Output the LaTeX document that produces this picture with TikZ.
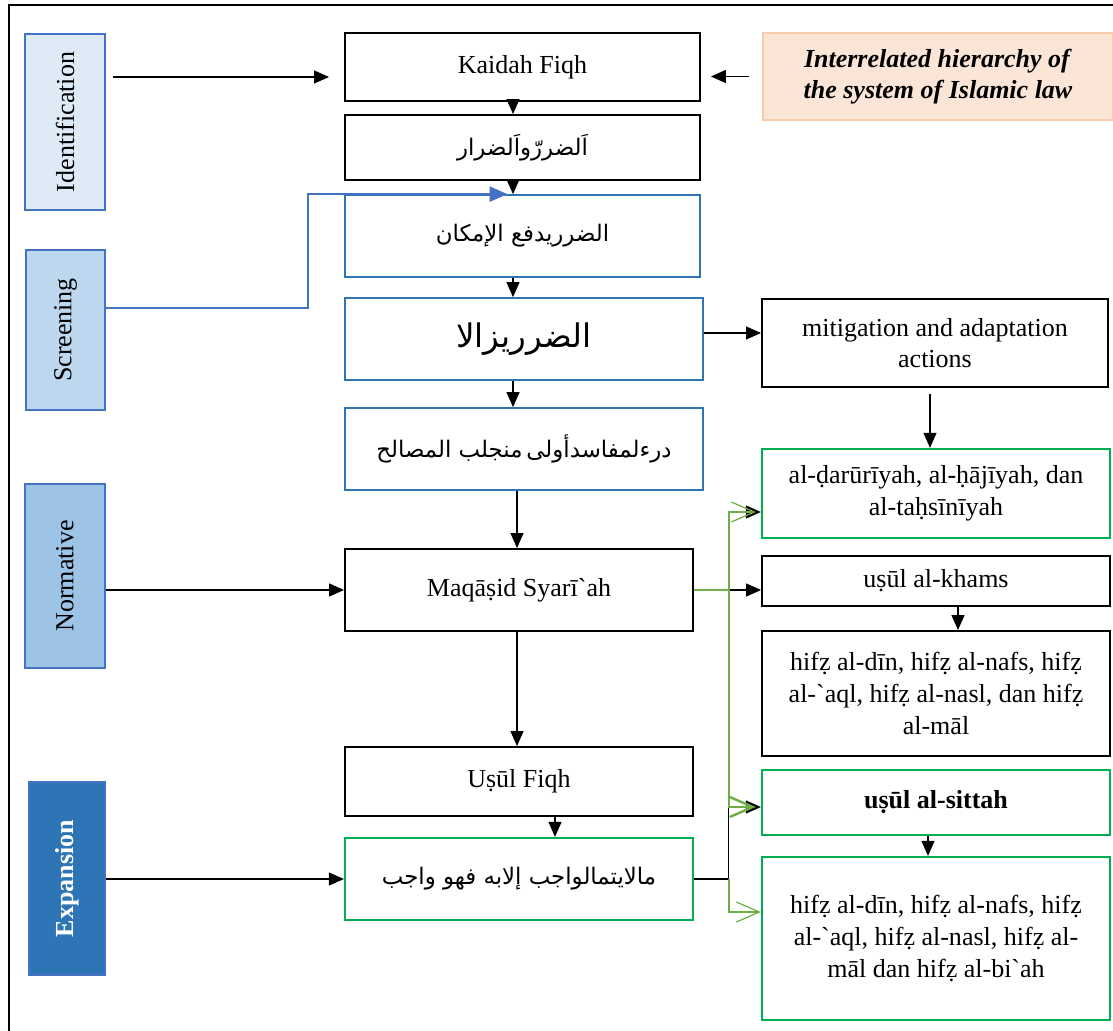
\documentclass[tikz,border=0pt]{standalone}
\usepackage{fontspec}
\usepackage{graphicx}
\setmainfont{Liberation Serif}
\newfontfamily\arabicfont[Script=Arabic]{DejaVu Sans}
\TeXXeTstate=1
\usetikzlibrary{arrows.meta}
\definecolor{stageline}{RGB}{68, 114, 196}
\definecolor{boxblue}{RGB}{46, 117, 182}
\definecolor{boxgreen}{RGB}{0, 176, 80}
\definecolor{linkgreen}{RGB}{112, 173, 71}
\definecolor{identfill}{RGB}{222, 235, 247}
\definecolor{screenfill}{RGB}{189, 215, 238}
\definecolor{normfill}{RGB}{157, 195, 230}
\definecolor{expfill}{RGB}{46, 117, 182}
\definecolor{peachfill}{RGB}{251, 229, 214}
\definecolor{peachline}{RGB}{248, 203, 173}

\begin{document}
\begin{tikzpicture}[x=0.02cm, y=-0.02cm,
  every node/.style={font=\fontsize{14.8}{18}\selectfont, inner sep=0pt},
  box/.style={draw=black, line width=1.1pt, rectangle},
  bluebox/.style={draw=boxblue, line width=1pt, rectangle, font=\arabicfont\fontsize{13}{16}\selectfont},
  greenbox/.style={draw=boxgreen, line width=1.3pt, rectangle},
  stage/.style={draw=stageline, line width=0.6pt, rectangle},
  arr/.style={-{Triangle[length=0.3cm, width=0.26cm]}, line width=0.6pt},
  garr/.style={-{Straight Barb[length=0.46cm, width=0.4cm]}, draw=linkgreen, line width=0.7pt}]
  \useasboundingbox (0, 0) rectangle (1113, 1031);
  \draw[line width=1.1pt] (9, 1060) |- (1140, 5);

  \node[stage, fill=identfill, minimum width=1.6cm, minimum height=3.52cm] (ident) at (65, 122) {\rotatebox{90}{Identification}};
  \node[stage, fill=screenfill, minimum width=1.58cm, minimum height=3.2cm] (screen) at (65.5, 330) {\rotatebox{90}{Screening}};
  \node[stage, fill=normfill, minimum width=1.6cm, minimum height=3.68cm] (norm) at (65, 576) {\rotatebox{90}{Normative}};
  \node[stage, fill=expfill, text=white, minimum width=1.52cm, minimum height=3.86cm] (expan) at (67, 878.5) {\rotatebox{90}{\textbf{Expansion}}};

  \node[box, minimum width=7.1cm, minimum height=1.36cm] (kaidah) at (522.5, 67) {Kaidah Fiqh};
  \node[box, minimum width=7.1cm, minimum height=1.3cm, font=\arabicfont\fontsize{13}{16}\selectfont] (darar) at (522.5, 147.5) {\beginR اَلضررّواَلضرار\endR};
  \node[bluebox, minimum width=7.1cm, minimum height=1.64cm] (yudfa) at (522.5, 236) {\beginR الضرريدفع الإمكان\endR};
  \node[bluebox, minimum width=7.16cm, minimum height=1.64cm, font=\arabicfont\fontsize{18.5}{22}\selectfont] (yuzal) at (524, 339) {\beginR الضرريزالا\endR};
  \node[bluebox, minimum width=7.16cm, minimum height=1.64cm] (dar) at (524, 449) {\beginR درءلمفاسدأولى\,منجلب المصالح\endR};
  \node[box, minimum width=6.96cm, minimum height=1.64cm] (maqasid) at (519, 590) {Maqāṣid Syarī\textasciigrave ah};
  \node[box, minimum width=6.96cm, minimum height=1.38cm] (usul) at (519, 781.5) {Uṣūl Fiqh};
  \node[greenbox, minimum width=6.96cm, minimum height=1.64cm, font=\arabicfont\fontsize{13}{16}\selectfont] (mala) at (519, 879) {\beginR مالايتمالواجب إلابه فهو واجب\endR};

  \node[draw=peachline, fill=peachfill, line width=1.3pt, minimum width=7cm, minimum height=1.74cm, align=center] (hier) at (938, 76.5) {\textbf{\textit{Interrelated hierarchy of}}\\\textbf{\textit{the system of Islamic law}}};
  \node[box, minimum width=6.92cm, minimum height=1.76cm, align=center] (mitig) at (935, 343) {mitigation and adaptation\\actions};
  \node[greenbox, minimum width=6.96cm, minimum height=1.78cm, align=center] (darur) at (936, 493.5) {al-ḍarūrīyah, al-ḥājīyah, dan\\al-taḥsīnīyah};
  \node[box, minimum width=6.96cm, minimum height=1cm] (khams) at (936, 581) {uṣūl al-khams};
  \node[box, minimum width=6.96cm, minimum height=2.5cm, align=center] (hifza) at (936, 693.5) {hifẓ al-dīn, hifẓ al-nafs, hifẓ\\al-\textasciigrave aql, hifẓ al-nasl, dan hifẓ\\al-māl};
  \node[greenbox, minimum width=6.96cm, minimum height=1.3cm] (sittah) at (936, 802.5) {\textbf{uṣūl al-sittah}};
  \node[greenbox, minimum width=6.96cm, minimum height=3.26cm, align=center] (hifzb) at (936, 938.5) {hifẓ al-dīn, hifẓ al-nafs, hifẓ\\al-\textasciigrave aql, hifẓ al-nasl, hifẓ al-\\māl dan hifẓ al-bi\textasciigrave ah};

  \draw[arr] ([xshift=0.14cm, yshift=-0.2cm]ident.east |- kaidah.west) -- ([xshift=-0.3cm, yshift=-0.2cm]kaidah.west);
  \draw[arr, shorten >=0.2cm] ([xshift=-0.26cm]hier.west) -- (hier.west -| kaidah.east);
  \draw[-{Triangle[length=0.36cm, width=0.3cm]}, draw=stageline, line width=1.4pt] ([yshift=0.44cm]screen.east) -| ([xshift=-4.29cm]yudfa.north) -- ([xshift=-0.3cm]yudfa.north);
  \draw[arr] ([xshift=-0.19cm]kaidah.south) -- ([xshift=-0.19cm]darar.north);
  \draw[arr] ([xshift=-0.19cm]darar.south) -- ([xshift=-0.19cm]yudfa.north);
  \draw[arr] ([xshift=-0.19cm]yudfa.south) -- ([xshift=-0.19cm]yudfa.south |- yuzal.north);
  \draw[arr] ([yshift=0.12cm]yuzal.east) -- ([yshift=0.12cm]yuzal.east -| mitig.west);
  \draw[arr] ([xshift=-0.22cm]yuzal.south) -- ([xshift=-0.22cm]dar.north);
  \draw[arr] ([xshift=-0.1cm, yshift=-0.12cm]mitig.south) -- ([xshift=-0.1cm]mitig.south |- darur.north);
  \draw[arr] ([xshift=-0.14cm]dar.south) -- ([xshift=-0.14cm]dar.south |- maqasid.north);
  \draw[arr] (norm.east |- maqasid.west) -- (maqasid.west);
  \draw[arr] (maqasid.east) -- (maqasid.east -| khams.west);
  \draw[arr] ([xshift=0.44cm]khams.south) -- ([xshift=0.44cm]hifza.north);
  \draw[arr] ([xshift=-0.04cm]maqasid.south) -- ([xshift=-0.04cm]usul.north);
  \draw[arr] ([xshift=0.72cm]usul.south) -- ([xshift=0.72cm]mala.north);
  \draw[arr] (expan.east |- mala.west) -- (mala.west);
  \draw[arr] ([xshift=-0.16cm]sittah.south) -- ([xshift=-0.16cm]hifzb.north);

  \coordinate (fork) at ([xshift=0.7cm]maqasid.east);
  \coordinate (join) at (fork |- mala.east);
  \draw[arr] (fork) |- ([yshift=-0.37cm]darur.west);
  \draw[arr] (mala.east) -- (join) |- ([yshift=-0.09cm]sittah.west);
  \draw[garr, shorten >=0.1cm] (maqasid.east) -- (fork) |- ([yshift=-0.37cm]darur.west);
  \draw[garr, line width=1.4pt, shorten >=0.1cm] (fork) |- ([yshift=-0.09cm]sittah.west);
  \draw[garr] (join) |- ([yshift=0.53cm]hifzb.west);
\end{tikzpicture}
\end{document}
